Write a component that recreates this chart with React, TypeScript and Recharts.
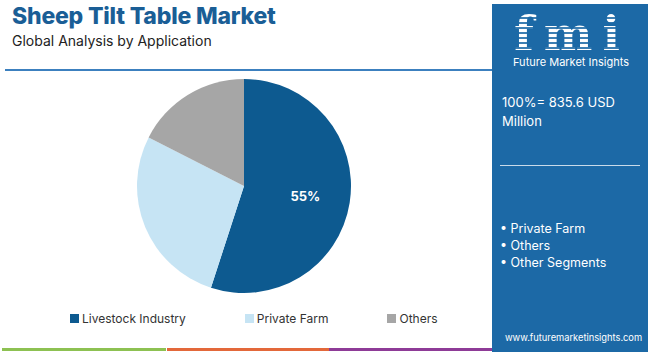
import { PieChart, Pie, Cell } from "recharts"

const segments = ["Livestock Industry", "Private Farm", "Others"]
const shares = [55, 27.5, 17.5]
const shownLabels = ["55%", "", ""]
const sidebarItems = ["Private Farm", "Others", "Other Segments"]

const colors = ["#0d5a90", "#c6e4f4", "#a6a6a6"]

const data = segments.map((name, i) => ({ name, value: shares[i], label: shownLabels[i] }))

const RAD = Math.PI / 180

function SliceLabel(props: any) {
  const { cx, cy, midAngle, outerRadius, index } = props
  const text = data[index].label
  if (!text) return null
  const r = outerRadius * 0.58
  const x = cx + r * Math.cos(-midAngle * RAD)
  const y = cy + r * Math.sin(-midAngle * RAD)
  return (
    <text x={x} y={y} fill="#ffffff" textAnchor="middle" dominantBaseline="central" fontSize={13} fontWeight={700} fontFamily="Inter, sans-serif">
      {text}
    </text>
  )
}

function LegendRow() {
  return (
    <div style={{ position: "absolute", left: 70, top: 311, display: "flex", whiteSpace: "nowrap", fontSize: 12, color: "#333" }}>
      {data.map((d, i) => (
        <div key={d.name} style={{ display: "flex", alignItems: "center", marginRight: 59 }}>
          <span style={{ width: 9, height: 9, background: colors[i], display: "inline-block", marginRight: 3 }} />
          <span>{d.name}</span>
        </div>
      ))}
    </div>
  )
}

export default function App() {
  return (
    <div style={{ position: "absolute", left: 0, top: 0, width: 650, height: 352, background: "#fff", overflow: "hidden", fontFamily: "Inter, sans-serif" }}>
      <div style={{ position: "absolute", left: 12, top: 2, fontSize: 23, fontWeight: 800, color: "#1a5e96", letterSpacing: -0.2 }}>
        Sheep Tilt Table Market
      </div>
      <div style={{ position: "absolute", left: 12, top: 32, fontSize: 14, color: "#222" }}>
        Global Analysis by Application
      </div>
      <div style={{ position: "absolute", left: 5, top: 69, width: 487, height: 2, background: "#3c80bf" }} />

      <PieChart width={490} height={352} margin={{ top: 0, right: 0, bottom: 0, left: 0 }} style={{ position: "absolute", left: 0, top: 0 }}>
        <Pie
          data={data}
          dataKey="value"
          nameKey="name"
          cx={244}
          cy={186}
          outerRadius={107}
          startAngle={90}
          endAngle={-270}
          stroke="none"
          labelLine={false}
          label={SliceLabel}
          isAnimationActive={false}
        >
          {data.map((d, i) => (
            <Cell key={d.name} fill={colors[i]} />
          ))}
        </Pie>
      </PieChart>
      <LegendRow />

      <div style={{ position: "absolute", left: 2, top: 348, width: 164, height: 3, background: "#8dc152" }} />
      <div style={{ position: "absolute", left: 167, top: 348, width: 162, height: 3, background: "#e3683a" }} />
      <div style={{ position: "absolute", left: 329, top: 348, width: 164, height: 3, background: "#8e3b97" }} />

      <div style={{ position: "absolute", left: 492, top: 4, width: 156, height: 348, background: "#1c69a6", color: "#fff" }}>
        <div
          style={{
            position: "absolute",
            left: 22,
            top: 10,
            fontSize: 46,
            lineHeight: "40px",
            fontWeight: 700,
            fontFamily: "'DejaVu Serif', serif",
            letterSpacing: 10,
            background: "repeating-linear-gradient(to bottom, #fff 0px, #fff 3px, rgba(255,255,255,0.15) 3px, rgba(255,255,255,0.15) 5px)",
            WebkitBackgroundClip: "text",
            backgroundClip: "text",
            color: "transparent",
          }}
        >
          fmi
        </div>
        <div style={{ position: "absolute", left: 21, top: 52, fontSize: 11, lineHeight: "13px", whiteSpace: "nowrap" }}>Future Market Insights</div>
        <div style={{ position: "absolute", left: 10, top: 89, width: 140, fontSize: 13, lineHeight: "19px" }}>
          100%= 835.6 USD Million
        </div>
        <div style={{ position: "absolute", left: 8, top: 161, width: 140, height: 1, background: "#c9dbea" }} />
        <div style={{ position: "absolute", left: 8, top: 216, fontSize: 12.5, lineHeight: "17px" }}>
          {sidebarItems.map((s) => (
            <div key={s}>• {s}</div>
          ))}
        </div>
        <div style={{ position: "absolute", left: 13, top: 328, fontSize: 9.3, whiteSpace: "nowrap" }}>www.futuremarketinsights.com</div>
      </div>
    </div>
  )
}
